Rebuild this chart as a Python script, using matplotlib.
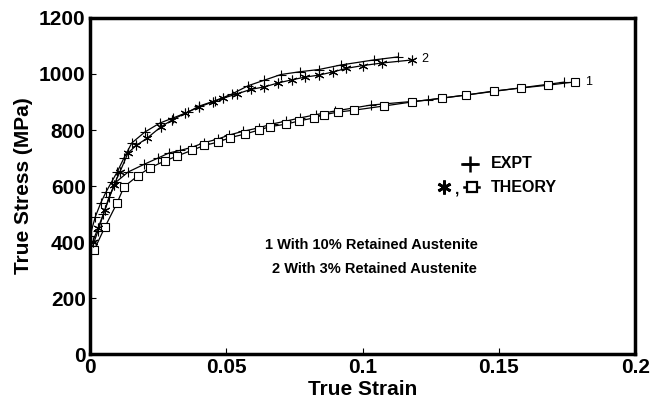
import matplotlib
matplotlib.use("Agg")
import matplotlib.pyplot as plt

plt.rcParams['font.family'] = ['Liberation Sans', 'DejaVu Sans']

# Curve 1: 10% retained austenite
expt1_x = [0.001, 0.003, 0.005, 0.007, 0.0096, 0.014, 0.020, 0.025, 0.029, 0.033, 0.037,
           0.042, 0.047, 0.051, 0.056, 0.062, 0.067, 0.072, 0.077, 0.083, 0.090, 0.103,
           0.124, 0.174]
expt1_y = [385, 440, 500, 560, 614, 650, 678, 700, 718, 727, 737, 755, 768, 782, 795, 808,
           822, 832, 843, 855, 868, 889, 907, 971]
theory1_x = [0.0015, 0.0055, 0.010, 0.0125, 0.0175, 0.022, 0.0276, 0.032, 0.0375, 0.042,
             0.047, 0.0515, 0.057, 0.062, 0.066, 0.072, 0.0765, 0.082, 0.086, 0.091, 0.097,
             0.108, 0.118, 0.129, 0.138, 0.148, 0.158, 0.168, 0.178]
theory1_y = [370, 453, 540, 597, 636, 665, 690, 707, 728, 745, 757, 773, 786, 800, 812, 821,
             832, 843, 855, 864, 871, 886, 900, 914, 925, 939, 950, 960, 972]

# Curve 2: 3% retained austenite
expt2_x = [0.0, 0.002, 0.004, 0.006, 0.008, 0.010, 0.0125, 0.0154, 0.0202, 0.0257, 0.0305,
           0.036, 0.040, 0.046, 0.052, 0.058, 0.064, 0.070, 0.077, 0.084, 0.092, 0.104, 0.113]
expt2_y = [420, 490, 540, 580, 615, 650, 700, 754, 793, 825, 843, 864, 885, 905, 928, 958,
           978, 998, 1008, 1016, 1032, 1050, 1061]
theory2_x = [0.001, 0.003, 0.0055, 0.0088, 0.011, 0.014, 0.017, 0.021, 0.026, 0.030, 0.035,
             0.040, 0.045, 0.049, 0.054, 0.059, 0.064, 0.069, 0.074, 0.079, 0.084, 0.089,
             0.094, 0.100, 0.107, 0.118]
theory2_y = [400, 450, 514, 603, 650, 718, 745, 771, 811, 835, 860, 882, 900, 914, 929, 945,
             954, 968, 979, 989, 996, 1007, 1020, 1030, 1039, 1050]

xticks = [0, 0.05, 0.1, 0.15, 0.2]
xtick_labels = ['0', '0.05', '0.1', '0.15', '0.2']
yticks = [0, 200, 400, 600, 800, 1000, 1200]

star = (6, 2, 0)

fig = plt.figure(figsize=(6.51, 4.08), dpi=100)
ax = fig.add_axes([0.138, 0.132, 0.838, 0.824])

kw = dict(color='black', lw=0.9)
ax.plot(expt1_x, expt1_y, marker='+', ms=7, mew=0.8, **kw)
ax.plot(theory1_x, theory1_y, marker='s', ms=5.5, mfc='white', mec='black', mew=0.8, **kw)
ax.plot(expt2_x, expt2_y, marker='+', ms=7, mew=0.8, **kw)
ax.plot(theory2_x, theory2_y, marker=star, ms=7, mew=0.8, **kw)

ax.text(0.1815, 972, '1', fontsize=9, va='center', ha='left')
ax.text(0.1215, 1055, '2', fontsize=9, va='center', ha='left')

ax.set_xlim(0, 0.2)
ax.set_ylim(0, 1200)
ax.set_xticks(xticks)
ax.set_xticklabels(xtick_labels)
ax.set_yticks(yticks)
ax.tick_params(direction='in', length=4, width=0.8, labelsize=15, pad=3)
for lab in ax.get_xticklabels() + ax.get_yticklabels():
    lab.set_fontweight('heavy')
for s in ax.spines.values():
    s.set_linewidth(2.5)

ax.set_xlabel('True Strain', fontsize=15, fontweight='heavy', labelpad=2)
ax.set_ylabel('True Stress (MPa)', fontsize=15, fontweight='heavy', labelpad=4)

# legend drawn manually
tr = ax.transAxes
ax.plot([0.683, 0.712], [0.566, 0.566], transform=tr, color='black', lw=1.8)
ax.plot([0.6975], [0.566], transform=tr, marker='+', ms=11, mew=1.8, color='black')
ax.text(0.735, 0.566, 'EXPT', transform=tr, fontsize=11.5, fontweight='heavy', va='center')
ax.plot([0.650], [0.497], transform=tr, marker=star, ms=10, mew=2.0, color='black')
ax.text(0.669, 0.490, ',', transform=tr, fontsize=11, fontweight='heavy', va='center')
ax.plot([0.686, 0.714], [0.497, 0.497], transform=tr, color='black', lw=1.8)
ax.plot([0.700], [0.497], transform=tr, marker='s', ms=7, mfc='white', mec='black',
        mew=1.6, color='black')
ax.text(0.735, 0.497, 'THEORY', transform=tr, fontsize=11.5, fontweight='heavy', va='center')

ax.text(0.517, 0.326, '1 With 10% Retained Austenite', transform=tr, fontsize=10.5,
        fontweight='heavy', ha='center', va='center')
ax.text(0.521, 0.252, '2 With 3% Retained Austenite', transform=tr, fontsize=10.5,
        fontweight='heavy', ha='center', va='center')

fig.savefig('out.png', dpi=100)
